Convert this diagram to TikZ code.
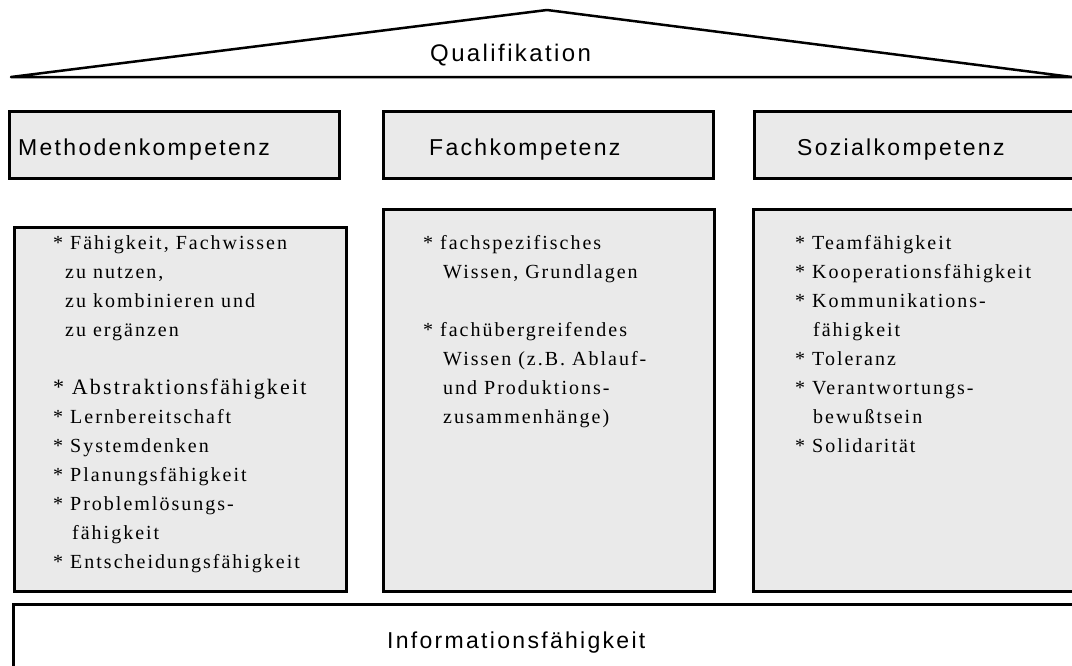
\documentclass[tikz,border=0pt]{standalone}
\usepackage{fontspec}
\setmainfont{Liberation Serif}[LetterSpace=10]
\newfontfamily\headfont{Liberation Sans}[LetterSpace=10]
\usetikzlibrary{positioning}
\definecolor{pillargray}{RGB}{234,234,234}

\begin{document}
\begin{tikzpicture}[x=1pt,y=-1pt,
      roof/.style = {line width=2.5pt, line join=round},
      pillar/.style = {draw, line width=2.5pt, fill=pillargray,
         inner sep=0pt, anchor=north west},
      headtxt/.style = {font=\headfont\fontsize{23}{23}\selectfont,
         inner sep=0pt, anchor=base west},
      listtxt/.style = {font=\fontsize{20}{29}\selectfont, align=left,
         inner sep=0pt, anchor=north west}]

   \useasboundingbox (0,0) rectangle (1072,665);
   \clip (0,0) rectangle (1072,665);

   % roof
   \coordinate (eaveL) at (11,77);
   \coordinate (ridge) at (547,10);
   \coordinate (eaveR) at (1072,77);
   \draw[roof] (eaveL) -- (ridge) -- (eaveR) -- cycle;
   \node[headtxt, font=\headfont\fontsize{24}{24}\selectfont] (qual) at (430,61) {Qualifikation};

   % pillar heads
   \node[pillar, minimum width=330pt, minimum height=67pt] (mhead) at (8,110)   {};
   \node[pillar, minimum width=330pt, minimum height=67pt] (fhead) at (382,110) {};
   \node[pillar, minimum width=340pt, minimum height=67pt] (shead) at (753,110) {};

   \node[headtxt] (mname) at (18,155)  {Methodenkompetenz};
   \node[headtxt] (fname) at (429,155) {Fachkompetenz};
   \node[headtxt] (sname) at (797,155) {Sozialkompetenz};

   % pillar bodies
   \node[pillar, minimum width=332pt, minimum height=364pt] (mbody) at (13,226)  {};
   \node[pillar, minimum width=331pt, minimum height=382pt] (fbody) at (382,208) {};
   \node[pillar, minimum width=340pt, minimum height=382pt] (sbody) at (752,208) {};

   \node[listtxt] (mlist) at (53,235) {%
      * Fähigkeit, Fachwissen\\
      \hspace*{12pt}zu nutzen,\\
      \hspace*{12pt}zu kombinieren und\\
      \hspace*{12pt}zu ergänzen\\[29pt]
      {\fontsize{22}{29}\selectfont * Abstraktionsfähigkeit}\\
      * Lernbereitschaft\\
      * Systemdenken\\
      * Planungsfähigkeit\\
      * Problemlösungs-\\
      \hspace*{19pt}fähigkeit\\
      * Entscheidungsfähigkeit};

   \node[listtxt] (flist) at (423,235) {%
      * fachspezifisches\\
      \hspace*{20pt}Wissen, Grundlagen\\[29pt]
      * fachübergreifendes\\
      \hspace*{20pt}Wissen (z.B. Ablauf-\\
      \hspace*{20pt}und Produktions-\\
      \hspace*{20pt}zusammenhänge)};

   \node[listtxt] (slist) at (795,235) {%
      * Teamfähigkeit\\
      * Kooperationsfähigkeit\\
      * Kommunikations-\\
      \hspace*{18pt}fähigkeit\\
      * Toleranz\\
      * Verantwortungs-\\
      \hspace*{18pt}bewußtsein\\
      * Solidarität};

   % foundation
   \node[pillar, fill=white, minimum width=1080pt, minimum height=80pt] (info) at (12,603) {};
   \node[headtxt] (iname) at (387,648) {Informationsfähigkeit};

\end{tikzpicture}
\end{document}
